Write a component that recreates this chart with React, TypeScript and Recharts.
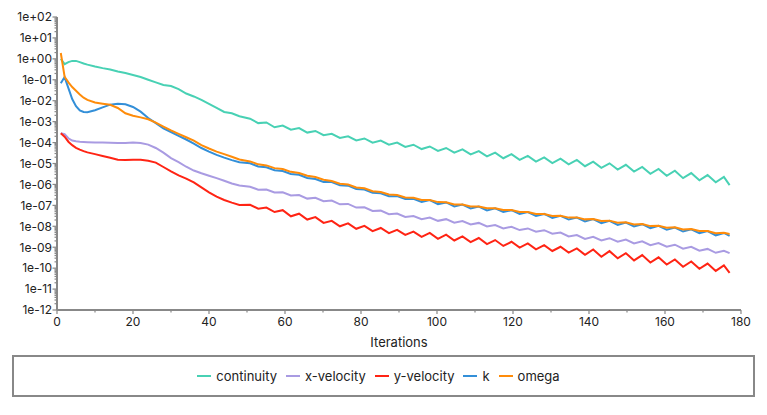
import React from 'react';
import { LineChart, Line, XAxis, YAxis } from 'recharts';

// Iteration numbers at which values were read (early smooth part, then peaks/troughs)
const iterations = [
  1, 2, 3, 4, 5, 6, 7, 8, 10, 12, 14, 16, 18, 20, 22, 24, 26, 28, 30, 32, 34, 36, 38, 40, 42, 44, 46, 48,
  50.8, 52.95, 55.1, 57.25, 59.4, 61.55, 63.7, 65.85, 68, 70.15, 72.3, 74.45, 76.6, 78.75, 80.9, 83.05,
  85.2, 87.35, 89.5, 91.65, 93.8, 95.95, 98.1, 100.25, 102.4, 104.55, 106.7, 108.85, 111, 113.15, 115.3,
  117.45, 119.6, 121.75, 123.9, 126.05, 128.2, 130.35, 132.5, 134.65, 136.8, 138.95, 141.1, 143.25, 145.4,
  147.55, 149.7, 151.85, 154, 156.15, 158.3, 160.45, 162.6, 164.75, 166.9, 169.05, 171.2, 173.35, 175.5, 177,
];

const continuity = [
  1.0, 0.56, 0.7, 0.8, 0.8, 0.7, 0.6, 0.53, 0.43, 0.36, 0.31, 0.25, 0.21, 0.17, 0.135, 0.1, 0.075, 0.056,
  0.05, 0.036, 0.022, 0.016, 0.011, 0.007, 0.0045, 0.0029, 0.0025, 0.0018,
  1.38e-3, 8.5e-4, 9.1e-4, 5.4e-4, 6.5e-4, 4.1e-4, 4.9e-4, 3.0e-4, 3.6e-4, 2.24e-4, 2.6e-4, 1.66e-4,
  2.0e-4, 1.26e-4, 1.57e-4, 9.9e-5, 1.24e-4, 7.9e-5, 1.0e-4, 6.2e-5, 7.9e-5, 4.9e-5, 6.5e-5, 4.0e-5,
  5.5e-5, 3.3e-5, 4.7e-5, 2.7e-5, 3.9e-5, 2.2e-5, 3.3e-5, 1.78e-5, 2.8e-5, 1.48e-5, 2.3e-5, 1.23e-5,
  1.95e-5, 1.05e-5, 1.7e-5, 9.1e-6, 1.48e-5, 7.4e-6, 1.23e-5, 6.2e-6, 1.02e-5, 5.1e-6, 8.7e-6, 4.1e-6,
  6.9e-6, 3.2e-6, 5.5e-6, 2.6e-6, 4.5e-6, 2.0e-6, 3.5e-6, 1.58e-6, 2.8e-6, 1.26e-6, 2.3e-6, 9.3e-7,
];

const xVelocity = [
  2.8e-4, 2.5e-4, 1.6e-4, 1.25e-4, 1.15e-4, 1.1e-4, 1.07e-4, 1.05e-4, 1.02e-4, 1.0e-4, 9.8e-5, 9.5e-5,
  9.6e-5, 1.0e-4, 9.6e-5, 8.0e-5, 5.5e-5, 3.3e-5, 1.8e-5, 1.15e-5, 7.0e-6, 4.6e-6, 3.4e-6, 2.6e-6,
  2.0e-6, 1.5e-6, 1.1e-6, 8.8e-7,
  7.8e-7, 5.6e-7, 5.75e-7, 4.1e-7, 4.2e-7, 2.95e-7, 3.1e-7, 2.1e-7, 2.3e-7, 1.58e-7, 1.7e-7, 1.12e-7,
  1.17e-7, 7.8e-8, 8.1e-8, 5.4e-8, 5.6e-8, 3.8e-8, 4.1e-8, 2.8e-8, 3.1e-8, 2.19e-8, 2.63e-8, 1.82e-8,
  2.19e-8, 1.48e-8, 1.78e-8, 1.23e-8, 1.45e-8, 9.8e-9, 1.15e-8, 7.9e-9, 9.5e-9, 6.6e-9, 7.9e-9, 5.5e-9,
  6.5e-9, 4.4e-9, 5.0e-9, 3.3e-9, 3.8e-9, 2.5e-9, 3.16e-9, 2.1e-9, 2.7e-9, 1.82e-9, 2.3e-9, 1.51e-9,
  1.9e-9, 1.26e-9, 1.58e-9, 1.05e-9, 1.32e-9, 8.5e-10, 1.05e-9, 6.8e-10, 8.3e-10, 5.4e-10, 6.8e-10, 5.2e-10,
];

const yVelocity = [
  2.8e-4, 1.9e-4, 1.1e-4, 7.5e-5, 5.6e-5, 4.6e-5, 3.9e-5, 3.4e-5, 2.8e-5, 2.3e-5, 1.9e-5, 1.5e-5,
  1.45e-5, 1.5e-5, 1.5e-5, 1.35e-5, 1.1e-5, 6.8e-6, 4.2e-6, 2.7e-6, 1.9e-6, 1.25e-6, 7.2e-7, 4.2e-7,
  2.6e-7, 1.8e-7, 1.35e-7, 1.05e-7,
  1.07e-7, 6.9e-8, 7.8e-8, 4.8e-8, 5.9e-8, 3.0e-8, 4.0e-8, 2.1e-8, 2.75e-8, 1.45e-8, 1.82e-8, 1.0e-8,
  1.38e-8, 7.6e-9, 1.05e-8, 5.9e-9, 8.3e-9, 4.7e-9, 6.8e-9, 3.9e-9, 5.6e-9, 3.1e-9, 4.8e-9, 2.5e-9,
  4.0e-9, 2.1e-9, 3.3e-9, 1.74e-9, 2.75e-9, 1.41e-9, 2.2e-9, 1.15e-9, 1.82e-9, 9.5e-10, 1.51e-9, 7.9e-10,
  1.26e-9, 6.6e-10, 1.05e-9, 5.5e-10, 8.7e-10, 4.3e-10, 7.8e-10, 3.5e-10, 6.5e-10, 2.95e-10, 5.2e-10, 2.34e-10,
  4.2e-10, 1.86e-10, 3.3e-10, 1.48e-10, 2.6e-10, 1.17e-10, 2.1e-10, 9.3e-11, 1.66e-10, 7.4e-11, 1.35e-10, 6.0e-11,
];

const kValues = [
  0.068, 0.135, 0.04, 0.012, 0.0055, 0.0034, 0.0029, 0.0028, 0.0035, 0.0048, 0.0065, 0.0072, 0.0067,
  0.005, 0.003, 0.0015, 0.00085, 0.00048, 0.00032, 0.00021, 0.00014, 9e-5, 5.5e-5, 3.7e-5, 2.6e-5, 1.9e-5,
  1.45e-5, 1.15e-5,
  1.02e-5, 7.2e-6, 6.6e-6, 4.8e-6, 4.4e-6, 3.16e-6, 2.9e-6, 2.04e-6, 1.82e-6, 1.32e-6, 1.29e-6, 9.1e-7,
  8.7e-7, 6.0e-7, 5.75e-7, 4.0e-7, 3.8e-7, 2.75e-7, 2.75e-7, 2.0e-7, 2.04e-7, 1.45e-7, 1.78e-7, 1.15e-7,
  1.38e-7, 8.9e-8, 1.1e-7, 7.1e-8, 8.7e-8, 5.75e-8, 7.2e-8, 4.8e-8, 5.9e-8, 3.9e-8, 4.8e-8, 3.1e-8,
  3.9e-8, 2.5e-8, 3.16e-8, 2.1e-8, 2.63e-8, 1.7e-8, 2.19e-8, 1.41e-8, 1.82e-8, 1.17e-8, 1.51e-8, 9.8e-9,
  1.26e-8, 8.1e-9, 1.05e-8, 6.8e-9, 8.7e-9, 5.6e-9, 7.2e-9, 4.7e-9, 5.9e-9, 3.7e-9, 4.8e-9, 3.5e-9,
];

const omega = [
  1.9, 0.14, 0.075, 0.045, 0.03, 0.02, 0.014, 0.011, 0.0082, 0.0072, 0.0064, 0.0045, 0.0025, 0.0019,
  0.0016, 0.0013, 0.0009, 0.00058, 0.00038, 0.00026, 0.00018, 0.000125, 7.5e-5, 5.2e-5, 3.7e-5, 2.8e-5,
  2.1e-5, 1.55e-5,
  1.26e-5, 9.1e-6, 8.1e-6, 6.0e-6, 5.4e-6, 4.0e-6, 3.5e-6, 2.6e-6, 2.24e-6, 1.66e-6, 1.45e-6, 1.08e-6,
  9.9e-7, 7.2e-7, 6.5e-7, 4.7e-7, 4.3e-7, 3.3e-7, 3.1e-7, 2.37e-7, 2.3e-7, 1.8e-7, 1.8e-7, 1.43e-7,
  1.4e-7, 1.11e-7, 1.11e-7, 8.8e-8, 8.8e-8, 7.2e-8, 7.3e-8, 6.0e-8, 6.0e-8, 4.8e-8, 4.8e-8, 3.85e-8,
  3.9e-8, 3.1e-8, 3.2e-8, 2.6e-8, 2.66e-8, 2.14e-8, 2.24e-8, 1.78e-8, 1.86e-8, 1.48e-8, 1.55e-8, 1.23e-8,
  1.29e-8, 1.02e-8, 1.07e-8, 8.5e-9, 8.9e-9, 7.1e-9, 7.4e-9, 5.9e-9, 6.0e-9, 4.7e-9, 4.9e-9, 4.3e-9,
];

const xTicks = [0, 10, 20, 30, 40, 50, 60, 70, 80, 90, 100, 110, 120, 130, 140, 150, 160, 170, 180];
const xLabelStep = 20;
const yDecades = [-12, -11, -10, -9, -8, -7, -6, -5, -4, -3, -2, -1, 0, 1, 2];
const yMinorMultipliers = [2, 3, 4, 5, 6, 7, 8, 9];

const seriesInfo = [
  { key: 'continuity', name: 'continuity', color: '#48d1b4' },
  { key: 'xVelocity', name: 'x-velocity', color: '#a99be2' },
  { key: 'yVelocity', name: 'y-velocity', color: '#ff2414' },
  { key: 'k', name: 'k', color: '#338fd8' },
  { key: 'omega', name: 'omega', color: '#ff8c0a' },
];

const data = iterations.map((it, i) => ({
  iter: it,
  continuity: continuity[i],
  xVelocity: xVelocity[i],
  yVelocity: yVelocity[i],
  k: kValues[i],
  omega: omega[i],
}));

const yTicks: number[] = [];
yDecades.forEach((e, idx) => {
  yTicks.push(Math.pow(10, e));
  if (idx < yDecades.length - 1) {
    yMinorMultipliers.forEach((m) => yTicks.push(m * Math.pow(10, e)));
  }
});

const AXIS = '#888888';
const TEXT = '#222222';
const FONT = 'Inter, "Noto Sans", sans-serif';

const fmtExp = (e: number) => `1e${e < 0 ? '-' : '+'}${String(Math.abs(e)).padStart(2, '0')}`;

const YTick = (props: any) => {
  const { x, y, payload } = props;
  const v = payload.value as number;
  const lg = Math.log10(v);
  const major = Math.abs(lg - Math.round(lg)) < 1e-6;
  return (
    <g>
      <line x1={x - (major ? 4.5 : 2.5)} x2={x} y1={y} y2={y} stroke={AXIS} strokeWidth={1.2} />
      {major && (
        <text x={x - 5} y={y} dy={4.3} textAnchor="end" fontSize={12} fontFamily={FONT} fill={TEXT}>
          {fmtExp(Math.round(lg))}
        </text>
      )}
    </g>
  );
};

const XTick = (props: any) => {
  const { x, y, payload } = props;
  const v = payload.value as number;
  const major = v % xLabelStep === 0;
  return (
    <g>
      <line x1={x} x2={x} y1={y} y2={y + (major ? 4 : 2.5)} stroke={AXIS} strokeWidth={1.2} />
      {major && (
        <text x={x} y={y + 16} textAnchor="middle" fontSize={12} fontFamily={FONT} fill={TEXT}>
          {v}
        </text>
      )}
    </g>
  );
};

const XLabel = (props: any) => {
  const vb = props.viewBox || {};
  return (
    <text x={vb.x + vb.width / 2} y={vb.y + 37} textAnchor="middle" fontSize={13} fontFamily={FONT} fill={TEXT}>
      Iterations
    </text>
  );
};

export default function App() {
  return (
    <div style={{ position: 'absolute', left: 0, top: 0, width: 767, height: 415, background: '#fff' }}>
      <LineChart width={767} height={415} data={data} margin={{ top: 17, right: 26, bottom: 65, left: 0 }}>
        <XAxis
          dataKey="iter"
          type="number"
          domain={[0, 180]}
          ticks={xTicks}
          interval={0}
          tick={XTick}
          tickLine={false}
          tickSize={0}
          tickMargin={0}
          height={40}
          axisLine={{ stroke: AXIS, strokeWidth: 2 }}
          label={{ content: XLabel }}
        />
        <YAxis
          type="number"
          scale="log"
          domain={[1e-12, 100]}
          allowDataOverflow
          ticks={yTicks}
          interval={0}
          tick={YTick}
          tickLine={false}
          tickSize={0}
          tickMargin={0}
          width={57}
          axisLine={{ stroke: AXIS, strokeWidth: 2 }}
        />
        {seriesInfo.map((s) => (
          <Line
            key={s.key}
            dataKey={s.key}
            name={s.name}
            type="linear"
            stroke={s.color}
            strokeWidth={2}
            dot={false}
            activeDot={false}
            isAnimationActive={false}
          />
        ))}
      </LineChart>
      <div
        style={{
          position: 'absolute',
          left: 12,
          top: 355,
          width: 743,
          height: 42,
          boxSizing: 'border-box',
          border: `2px solid ${AXIS}`,
          display: 'flex',
          alignItems: 'center',
          justifyContent: 'center',
          paddingRight: 10,
          fontFamily: FONT,
          fontSize: 13,
          color: TEXT,
        }}
      >
        {seriesInfo.map((s, i) => (
          <div key={s.key} style={{ display: 'flex', alignItems: 'center', marginRight: i < seriesInfo.length - 1 ? 9 : 0 }}>
            <span style={{ display: 'inline-block', width: 14, height: 2, background: s.color, marginRight: 5 }} />
            <span>{s.name}</span>
          </div>
        ))}
      </div>
    </div>
  );
}
